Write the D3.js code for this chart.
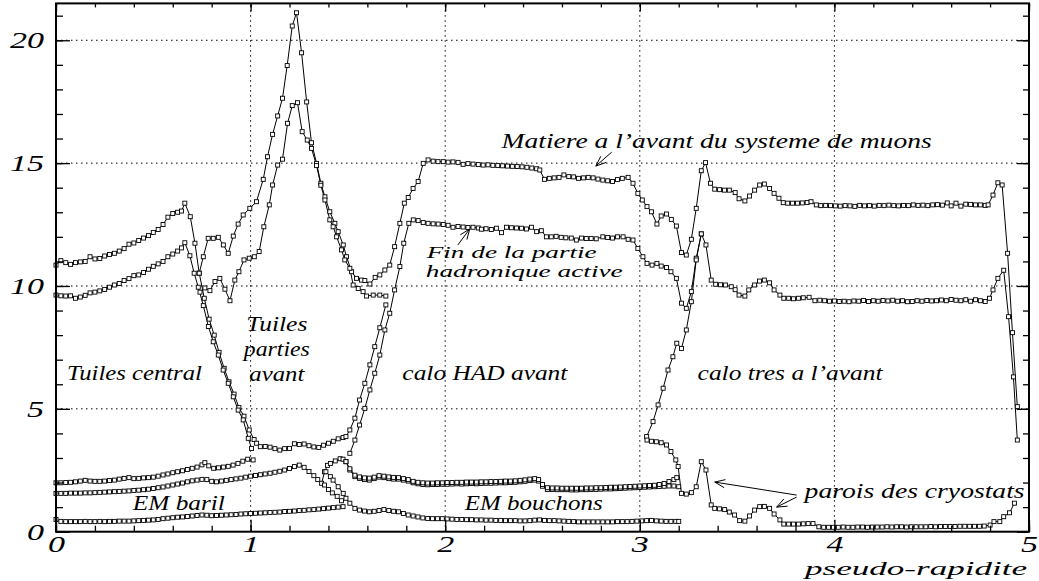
<!DOCTYPE html>
<html><head><meta charset="utf-8">
<script src="https://cdn.jsdelivr.net/npm/d3@7"></script>
<style>
body{margin:0;background:#fff;}
svg{display:block;background:#fff;}
svg text{font-family:"Liberation Serif","Times New Roman",Times,"Nimbus Roman","DejaVu Serif","Noto Serif",serif !important;font-style:italic;fill:#000;}
</style></head><body>
<svg id="chart" width="1039" height="581"></svg>
<script>
// ---------------- data (eta, interaction lengths) ----------------
const xTicks = [0, 1, 2, 3, 4, 5];
const yTicks = [0, 5, 10, 15, 20];
const xTickLabels = ["0", "1", "2", "3", "4", "5"];
const yTickLabels = ["0", "5", "10", "15", "20"];

const emBarrelInner = [[0,0.5],[0.025,0.42],[0.05,0.41],[0.075,0.41],[0.1,0.41],[0.125,0.41],[0.15,0.42],[0.175,0.41],[0.2,0.41],[0.225,0.42],[0.25,0.41],[0.275,0.42],[0.3,0.42],[0.325,0.43],[0.35,0.43],[0.375,0.43],[0.4,0.44],[0.425,0.45],[0.45,0.46],[0.475,0.47],[0.5,0.48],[0.525,0.5],[0.55,0.53],[0.575,0.55],[0.6,0.57],[0.625,0.59],[0.65,0.6],[0.675,0.62],[0.7,0.64],[0.725,0.66],[0.75,0.68],[0.775,0.67],[0.8,0.65],[0.825,0.66],[0.85,0.67],[0.875,0.68],[0.9,0.69],[0.925,0.7],[0.95,0.72],[0.975,0.73],[1.0,0.74],[1.025,0.75],[1.05,0.76],[1.075,0.77],[1.1,0.78],[1.125,0.79],[1.15,0.8],[1.175,0.82],[1.2,0.83],[1.225,0.84],[1.25,0.86],[1.275,0.87],[1.3,0.89],[1.325,0.9],[1.35,0.92],[1.375,0.94],[1.4,0.96],[1.425,0.98],[1.45,1.0],[1.475,1.02]];

const emCumulative = [[0,1.56],[0.025,1.56],[0.05,1.56],[0.075,1.57],[0.1,1.57],[0.125,1.57],[0.15,1.58],[0.175,1.58],[0.2,1.59],[0.225,1.6],[0.25,1.61],[0.275,1.62],[0.3,1.63],[0.325,1.64],[0.35,1.65],[0.375,1.66],[0.4,1.68],[0.425,1.69],[0.45,1.71],[0.475,1.73],[0.5,1.76],[0.525,1.79],[0.55,1.82],[0.575,1.86],[0.6,1.9],[0.625,1.94],[0.65,1.98],[0.675,2.03],[0.7,2.07],[0.725,2.1],[0.75,2.13],[0.775,2.12],[0.8,2.05],[0.825,2.03],[0.85,2.06],[0.875,2.09],[0.9,2.12],[0.925,2.15],[0.95,2.18],[0.975,2.22],[1.0,2.26],[1.025,2.29],[1.05,2.32],[1.075,2.35],[1.1,2.38],[1.125,2.42],[1.15,2.46],[1.175,2.51],[1.2,2.57],[1.225,2.65],[1.25,2.71],[1.275,2.62],[1.3,2.45],[1.325,2.28],[1.345,2.12],[1.365,1.97],[1.38,2.44],[1.395,2.7],[1.41,2.78],[1.435,2.88],[1.46,2.97],[1.475,2.95],[1.49,2.85],[1.51,2.51],[1.536,2.24],[1.56,2.17],[1.585,2.12],[1.61,2.1],[1.635,2.16],[1.66,2.22],[1.685,2.2],[1.71,2.16],[1.735,2.14],[1.76,2.14],[1.785,2.1],[1.81,2.06],[1.835,1.99],[1.86,1.95],[1.885,1.92],[1.91,1.91],[1.935,1.92],[1.96,1.92],[1.985,1.93],[2.01,1.93],[2.035,1.94],[2.06,1.95],[2.085,1.94],[2.11,1.95],[2.135,1.96],[2.16,1.95],[2.185,1.96],[2.21,1.97],[2.235,1.97],[2.26,1.98],[2.285,1.99],[2.31,1.99],[2.335,2.0],[2.36,2.01],[2.385,2.03],[2.41,2.05],[2.435,2.08],[2.46,2.1],[2.48,2.06],[2.5,1.85],[2.525,1.72],[2.55,1.72],[2.575,1.71],[2.6,1.71],[2.625,1.71],[2.65,1.7],[2.675,1.7],[2.7,1.71],[2.725,1.71],[2.75,1.72],[2.775,1.72],[2.8,1.73],[2.825,1.74],[2.85,1.74],[2.875,1.75],[2.9,1.76],[2.925,1.77],[2.95,1.78],[2.975,1.79],[3.0,1.8],[3.025,1.81],[3.05,1.82],[3.075,1.83],[3.1,1.84],[3.125,1.85],[3.15,1.86],[3.175,1.86],[3.2,1.83]];

const emEndcapOuter = [[1.49,2.85],[1.51,2.56],[1.536,2.3],[1.56,2.23],[1.585,2.19],[1.61,2.18],[1.635,2.22],[1.66,2.28],[1.685,2.26],[1.71,2.23],[1.735,2.21],[1.76,2.2],[1.785,2.16],[1.81,2.12],[1.835,2.05],[1.86,2.01],[1.885,1.99],[1.91,1.98],[1.935,1.98],[1.96,1.99],[1.985,1.99],[2.01,2.0],[2.035,2.0],[2.06,2.01],[2.085,2.01],[2.11,2.02],[2.135,2.02],[2.16,2.02],[2.185,2.03],[2.21,2.03],[2.235,2.04],[2.26,2.04],[2.285,2.05],[2.31,2.06],[2.335,2.06],[2.36,2.07],[2.385,2.09],[2.41,2.11],[2.435,2.14],[2.46,2.16],[2.48,2.12],[2.5,1.92],[2.525,1.79],[2.55,1.78],[2.575,1.78],[2.6,1.77],[2.625,1.77],[2.65,1.77],[2.675,1.77],[2.7,1.77],[2.725,1.78],[2.75,1.78],[2.775,1.79],[2.8,1.79],[2.825,1.8],[2.85,1.81],[2.875,1.81],[2.9,1.82],[2.925,1.83],[2.95,1.84],[2.975,1.85],[3.0,1.86],[3.025,1.87],[3.05,1.88],[3.075,1.89],[3.1,1.92],[3.125,1.96],[3.15,2.04],[3.175,2.12],[3.19,2.2]];

const emCrackShort = [[1.38,1.9],[1.4,1.72],[1.42,1.58],[1.445,1.44],[1.467,1.26]];

const emEndcapInner = [[1.387,2.44],[1.41,2.24],[1.424,2.1],[1.45,1.83],[1.476,1.56],[1.49,1.36],[1.51,1.16],[1.536,0.95],[1.56,0.88],[1.585,0.84],[1.61,0.81],[1.635,0.83],[1.66,0.86],[1.685,0.9],[1.71,0.86],[1.735,0.83],[1.76,0.81],[1.785,0.74],[1.81,0.68],[1.835,0.64],[1.86,0.6],[1.885,0.56],[1.91,0.54],[1.935,0.53],[1.96,0.53],[1.985,0.53],[2.01,0.52],[2.035,0.51],[2.06,0.5],[2.085,0.5],[2.11,0.49],[2.135,0.49],[2.16,0.48],[2.185,0.48],[2.21,0.47],[2.235,0.47],[2.26,0.46],[2.285,0.46],[2.31,0.45],[2.335,0.45],[2.36,0.45],[2.385,0.44],[2.41,0.44],[2.435,0.45],[2.46,0.47],[2.485,0.48],[2.51,0.46],[2.535,0.45],[2.56,0.45],[2.585,0.44],[2.61,0.43],[2.635,0.42],[2.66,0.41],[2.685,0.4],[2.71,0.4],[2.735,0.4],[2.76,0.4],[2.785,0.4],[2.81,0.4],[2.835,0.4],[2.86,0.4],[2.885,0.41],[2.91,0.41],[2.935,0.41],[2.96,0.42],[2.985,0.43],[3.01,0.44],[3.035,0.45],[3.06,0.46],[3.085,0.44],[3.11,0.43],[3.135,0.42],[3.16,0.42],[3.185,0.42],[3.2,0.42]];

const tileBarrelFront = [[0,1.99],[0.025,1.99],[0.05,2.0],[0.075,2.01],[0.1,2.03],[0.125,2.06],[0.15,2.09],[0.175,2.06],[0.2,2.05],[0.225,2.05],[0.25,2.06],[0.275,2.08],[0.3,2.1],[0.325,2.14],[0.35,2.17],[0.375,2.2],[0.4,2.16],[0.425,2.17],[0.45,2.19],[0.475,2.2],[0.5,2.22],[0.525,2.26],[0.55,2.31],[0.575,2.35],[0.6,2.4],[0.625,2.44],[0.65,2.48],[0.675,2.53],[0.7,2.58],[0.725,2.63],[0.75,2.72],[0.765,2.81],[0.785,2.68],[0.81,2.58],[0.835,2.6],[0.86,2.63],[0.885,2.66],[0.91,2.71],[0.935,2.78],[0.96,2.87],[0.985,2.95],[1.013,2.92]];

const barrelTotal = [[0,10.85],[0.025,11.03],[0.05,10.95],[0.075,10.88],[0.1,10.95],[0.125,10.98],[0.15,11.0],[0.175,11.19],[0.2,11.1],[0.225,11.12],[0.25,11.22],[0.275,11.28],[0.3,11.33],[0.325,11.42],[0.35,11.52],[0.375,11.7],[0.4,11.75],[0.425,11.85],[0.45,11.95],[0.475,12.05],[0.5,12.18],[0.525,12.3],[0.55,12.5],[0.575,12.8],[0.6,12.95],[0.625,13.0],[0.645,13.05],[0.662,13.37],[0.69,12.82],[0.714,11.74],[0.736,10.52],[0.762,9.5],[0.787,8.65],[0.813,8.0],[0.838,7.3],[0.864,6.65],[0.889,6.1],[0.915,5.6],[0.94,5.05],[0.966,4.7],[0.993,4.14],[1.018,3.75],[1.031,3.6],[1.05,3.46],[1.075,3.47],[1.1,3.44],[1.125,3.38],[1.15,3.32],[1.175,3.38],[1.2,3.39],[1.225,3.58],[1.25,3.55],[1.275,3.57],[1.3,3.5],[1.325,3.45],[1.35,3.43],[1.375,3.52],[1.4,3.6],[1.425,3.68],[1.45,3.78],[1.475,3.83],[1.49,3.87],[1.51,4.14],[1.536,4.62],[1.56,5.36],[1.587,6.04],[1.613,6.79],[1.638,7.53],[1.664,8.3],[1.695,9.23]];

const barrelActive = [[0,9.63],[0.025,9.6],[0.05,9.59],[0.075,9.6],[0.1,9.5],[0.125,9.55],[0.15,9.62],[0.175,9.72],[0.2,9.75],[0.225,9.8],[0.25,9.86],[0.275,9.95],[0.3,10.04],[0.325,10.1],[0.35,10.22],[0.375,10.3],[0.4,10.42],[0.425,10.45],[0.45,10.55],[0.475,10.68],[0.5,10.8],[0.525,10.9],[0.55,11.0],[0.575,11.19],[0.6,11.3],[0.625,11.42],[0.645,11.55],[0.662,11.76],[0.688,11.23],[0.71,10.52],[0.731,9.95],[0.757,9.2],[0.783,8.35],[0.808,7.73],[0.834,7.19],[0.859,6.58],[0.885,6.04],[0.911,5.49],[0.936,4.95],[0.962,4.55],[0.988,3.8],[1.005,3.39]];

const totalBeforeMuons = [[0.736,10.52],[0.757,11.19],[0.782,11.94],[0.808,11.94],[0.834,11.98],[0.86,11.67],[0.885,11.33],[0.911,12.03],[0.936,12.52],[0.962,12.89],[0.996,13.16],[1.03,13.43],[1.065,14.34],[1.087,15.26],[1.113,16.17],[1.139,16.92],[1.164,17.64],[1.188,18.97],[1.214,20.58],[1.236,21.12],[1.262,19.49],[1.288,17.49],[1.313,15.83],[1.339,14.99],[1.361,14.18],[1.382,13.63],[1.407,13.02],[1.433,12.55],[1.45,12.21],[1.476,11.67],[1.493,11.19],[1.519,10.58],[1.544,10.31],[1.57,10.24],[1.587,10.22],[1.613,10.08],[1.64,10.35],[1.664,10.45],[1.69,10.65],[1.715,10.85],[1.74,11.6],[1.767,12.55],[1.79,13.37],[1.81,13.6],[1.835,13.97],[1.861,14.25],[1.887,14.99],[1.912,15.13],[1.938,15.08],[1.963,15.06],[1.99,15.06],[2.015,15.04],[2.04,15.05],[2.066,15.03],[2.092,14.95],[2.117,14.98],[2.143,14.96],[2.17,14.94],[2.195,14.92],[2.22,14.93],[2.245,14.91],[2.27,14.9],[2.295,14.89],[2.32,14.88],[2.345,14.87],[2.37,14.86],[2.395,14.85],[2.42,14.83],[2.445,14.8],[2.47,14.77],[2.486,14.72],[2.51,14.34],[2.535,14.38],[2.56,14.4],[2.585,14.42],[2.61,14.52],[2.635,14.45],[2.66,14.44],[2.685,14.38],[2.71,14.4],[2.735,14.42],[2.76,14.4],[2.785,14.35],[2.81,14.31],[2.835,14.28],[2.86,14.25],[2.885,14.33],[2.91,14.38],[2.94,14.42],[2.965,14.18],[2.99,13.77],[3.013,13.5],[3.037,13.23],[3.06,13.02],[3.088,12.52],[3.11,12.85],[3.137,12.93],[3.162,12.71],[3.188,12.44],[3.214,11.36],[3.239,11.26],[3.265,11.9],[3.29,13.16],[3.316,14.69],[3.338,15.02],[3.363,14.18],[3.385,13.94],[3.41,13.92],[3.435,13.9],[3.46,13.9],[3.49,13.8],[3.51,13.55],[3.54,13.46],[3.564,13.66],[3.59,13.9],[3.616,14.11],[3.64,14.15],[3.667,13.97],[3.69,13.77],[3.715,13.57],[3.737,13.39],[3.76,13.37],[3.785,13.37],[3.81,13.37],[3.835,13.38],[3.86,13.4],[3.88,13.43],[3.907,13.3],[3.93,13.27],[3.955,13.28],[3.98,13.27],[4.005,13.26],[4.03,13.25],[4.055,13.27],[4.08,13.26],[4.105,13.24],[4.13,13.28],[4.155,13.26],[4.18,13.27],[4.205,13.25],[4.23,13.28],[4.255,13.27],[4.28,13.29],[4.305,13.27],[4.33,13.26],[4.355,13.28],[4.38,13.27],[4.405,13.3],[4.43,13.28],[4.455,13.29],[4.48,13.27],[4.505,13.3],[4.53,13.31],[4.555,13.29],[4.58,13.38],[4.6,13.26],[4.625,13.37],[4.65,13.25],[4.675,13.33],[4.7,13.32],[4.725,13.3],[4.75,13.3],[4.775,13.28],[4.79,13.3],[4.815,13.7],[4.84,14.2],[4.862,14.11],[4.89,11.33],[4.915,8.1],[4.94,5.09]];

const extBarrelActive = [[0.74,9.75],[0.765,9.92],[0.791,9.81],[0.817,10.18],[0.842,10.31],[0.868,9.87],[0.894,9.4],[0.919,10.24],[0.94,10.58],[0.966,11.06],[0.993,11.13],[1.019,11.19],[1.044,11.4],[1.068,12.41],[1.096,13.3],[1.113,14.11],[1.139,14.92],[1.164,15.16],[1.19,16.62],[1.214,17.34],[1.241,17.46],[1.265,16.28],[1.291,15.94],[1.313,15.6],[1.339,14.9],[1.361,14.1],[1.382,13.5],[1.407,12.69],[1.424,12.41],[1.442,12.0],[1.467,11.47],[1.484,11.06],[1.51,10.72],[1.527,10.04],[1.553,9.9],[1.578,9.77],[1.596,9.59],[1.63,9.63],[1.664,9.63],[1.695,9.59]];

const hecActive = [[1.51,3.19],[1.536,3.73],[1.56,4.34],[1.587,5.02],[1.613,5.77],[1.638,6.45],[1.664,7.19],[1.69,8.21],[1.715,8.89],[1.74,9.84],[1.767,10.79],[1.787,11.74],[1.813,12.55],[1.836,12.69],[1.861,12.66],[1.887,12.58],[1.912,12.55],[1.938,12.53],[1.964,12.52],[1.99,12.5],[2.015,12.47],[2.04,12.39],[2.066,12.42],[2.092,12.4],[2.117,12.38],[2.143,12.39],[2.17,12.36],[2.186,12.31],[2.21,12.33],[2.237,12.3],[2.263,12.35],[2.289,12.17],[2.315,12.39],[2.34,12.37],[2.366,12.36],[2.392,12.35],[2.418,12.32],[2.443,12.39],[2.47,12.21],[2.494,12.25],[2.52,12.0],[2.545,12.0],[2.57,12.02],[2.596,11.98],[2.62,11.96],[2.648,11.95],[2.674,11.87],[2.7,11.95],[2.725,11.93],[2.75,11.93],[2.776,11.92],[2.81,12.0],[2.835,11.97],[2.86,11.95],[2.885,12.0],[2.914,12.0],[2.94,11.9],[2.965,11.87],[2.99,11.53],[3.016,11.19],[3.037,10.92],[3.063,10.85],[3.088,10.92],[3.11,10.81],[3.137,10.75],[3.16,10.58],[3.188,10.31],[3.214,9.3],[3.239,9.09],[3.265,9.77],[3.29,11.13],[3.316,12.12]];

const fcalActive = [[3.035,3.87],[3.068,4.48],[3.094,5.16],[3.12,5.84],[3.145,6.58],[3.17,7.12],[3.19,7.67],[3.214,7.46],[3.239,8.21],[3.265,9.36],[3.29,11.06],[3.316,12.12],[3.34,11.67],[3.367,10.24],[3.39,10.07],[3.415,10.05],[3.44,10.04],[3.47,9.97],[3.49,9.85],[3.51,9.63],[3.54,9.59],[3.56,9.84],[3.59,10.04],[3.615,10.2],[3.64,10.24],[3.667,10.13],[3.69,9.84],[3.72,9.63],[3.74,9.5],[3.765,9.5],[3.79,9.48],[3.815,9.5],[3.84,9.52],[3.87,9.54],[3.9,9.4],[3.925,9.42],[3.95,9.4],[3.975,9.38],[4.0,9.39],[4.025,9.37],[4.05,9.38],[4.075,9.36],[4.1,9.39],[4.125,9.38],[4.15,9.41],[4.175,9.37],[4.2,9.4],[4.225,9.38],[4.25,9.41],[4.275,9.39],[4.3,9.42],[4.325,9.38],[4.35,9.4],[4.375,9.36],[4.4,9.37],[4.425,9.4],[4.45,9.38],[4.475,9.41],[4.5,9.39],[4.525,9.4],[4.55,9.43],[4.575,9.4],[4.6,9.45],[4.625,9.42],[4.65,9.4],[4.675,9.44],[4.7,9.38],[4.725,9.44],[4.75,9.4],[4.775,9.37],[4.797,9.5],[4.815,9.84],[4.84,10.31],[4.87,10.64],[4.895,8.75],[4.92,6.3],[4.94,3.73]];

const cryostatWalls = [[3.037,3.73],[3.06,3.68],[3.085,3.66],[3.11,3.62],[3.137,3.53],[3.16,3.26],[3.185,2.92],[3.197,2.65],[3.214,1.56],[3.239,1.53],[3.265,1.59],[3.29,1.83],[3.316,2.85],[3.34,2.51],[3.367,1.09],[3.385,0.95],[3.41,0.93],[3.436,0.9],[3.46,0.8],[3.487,0.68],[3.513,0.45],[3.54,0.43],[3.564,0.64],[3.59,0.88],[3.616,1.02],[3.64,1.03],[3.667,0.95],[3.69,0.72],[3.72,0.48],[3.74,0.31],[3.765,0.31],[3.79,0.31],[3.815,0.31],[3.84,0.32],[3.865,0.33],[3.89,0.33],[3.92,0.2],[3.945,0.18],[3.97,0.18],[3.995,0.18],[4.02,0.18],[4.045,0.19],[4.07,0.18],[4.095,0.18],[4.12,0.19],[4.145,0.19],[4.17,0.18],[4.195,0.19],[4.22,0.19],[4.245,0.19],[4.27,0.2],[4.295,0.19],[4.32,0.2],[4.345,0.2],[4.37,0.19],[4.395,0.2],[4.42,0.2],[4.445,0.2],[4.47,0.2],[4.495,0.21],[4.52,0.2],[4.545,0.21],[4.57,0.21],[4.595,0.21],[4.62,0.21],[4.645,0.22],[4.67,0.22],[4.695,0.22],[4.72,0.22],[4.745,0.22],[4.77,0.23],[4.8,0.27],[4.82,0.41],[4.85,0.41],[4.87,0.61],[4.9,0.77],[4.925,1.16]];

const seriesList = [emBarrelInner, emCumulative, emEndcapOuter, emCrackShort, emEndcapInner, tileBarrelFront,
  barrelTotal, barrelActive, totalBeforeMuons, extBarrelActive, hecActive, fcalActive, cryostatWalls];

// ---------------- drawing ----------------
const FONT = '"Liberation Serif","Times New Roman",Times,"Nimbus Roman","DejaVu Serif","Noto Serif",serif';
const svg = d3.select("#chart");
const x = d3.scaleLinear().domain([0, 5]).range([56, 1029]);
const y = d3.scaleLinear().domain([0, 21.5]).range([531.7, 3.4]);
const X0 = x(0), X1 = x(5), Y0 = y(0), Y1 = y(21.5);

svg.append("rect").attr("width", 1039).attr("height", 581).attr("fill", "#fff");

// grid (dotted) at major ticks
const grid = svg.append("g").attr("stroke", "#000").attr("stroke-width", 1).attr("stroke-dasharray", "1.5,3.5");
grid.selectAll("line.gx").data(xTicks.filter(d => d > 0 && d < 5)).join("line")
  .attr("x1", d => x(d)).attr("x2", d => x(d)).attr("y1", Y0).attr("y2", Y1);
grid.selectAll("line.gy").data(yTicks.filter(d => d > 0)).join("line")
  .attr("x1", X0).attr("x2", X1).attr("y1", d => y(d)).attr("y2", d => y(d));

// series
const line = d3.line().x(d => x(d[0])).y(d => y(d[1]));
const gS = svg.append("g");
seriesList.forEach(s => {
  gS.append("path").attr("d", line(s)).attr("fill", "none").attr("stroke", "#000").attr("stroke-width", 1);
});
seriesList.forEach(s => {
  gS.append("g").selectAll("rect").data(s).join("rect")
    .attr("x", d => x(d[0]) - 2).attr("y", d => y(d[1]) - 2)
    .attr("width", 4).attr("height", 4)
    .attr("fill", "#fff").attr("stroke", "#000").attr("stroke-width", 0.9);
});

// axes
const minorX = d3.range(0, 5.0001, 0.2).map(v => +v.toFixed(2));
const minorY = d3.range(0, 21.5, 1);
function styleAxis(g) {
  g.attr("font-family", FONT);
  g.select(".domain").remove();
  g.selectAll("line").attr("stroke", "#000").attr("stroke-width", 1.3);
}

const axB = svg.append("g").attr("transform", `translate(0,${Y0})`)
  .call(d3.axisBottom(x).tickValues(minorX).tickSize(-6).tickFormat(""));
styleAxis(axB);
const axBM = svg.append("g").attr("transform", `translate(0,${Y0})`)
  .call(d3.axisBottom(x).tickValues(xTicks).tickSizeInner(-12).tickSizeOuter(0).tickPadding(4)
    .tickFormat((d, i) => xTickLabels[i]));
styleAxis(axBM);
axBM.selectAll("text").attr("font-size", 23).attr("font-style", "italic")
  .attr("textLength", 17).attr("lengthAdjust", "spacingAndGlyphs");

const axT = svg.append("g").attr("transform", `translate(0,${Y1})`)
  .call(d3.axisTop(x).tickValues(minorX).tickSize(-4).tickFormat(""));
styleAxis(axT);
const axTM = svg.append("g").attr("transform", `translate(0,${Y1})`)
  .call(d3.axisTop(x).tickValues(xTicks).tickSize(-8).tickFormat(""));
styleAxis(axTM);

const axL = svg.append("g").attr("transform", `translate(${X0},0)`)
  .call(d3.axisLeft(y).tickValues(minorY).tickSize(-7).tickFormat(""));
styleAxis(axL);
const axLM = svg.append("g").attr("transform", `translate(${X0},0)`)
  .call(d3.axisLeft(y).tickValues(yTicks).tickSizeInner(-14).tickSizeOuter(0).tickPadding(12)
    .tickFormat((d, i) => yTickLabels[i]));
styleAxis(axLM);
axLM.selectAll("text").attr("font-size", 24).attr("font-style", "italic")
  .attr("textLength", d => d >= 10 ? 34 : 17).attr("lengthAdjust", "spacingAndGlyphs");

const axR = svg.append("g").attr("transform", `translate(${X1},0)`)
  .call(d3.axisRight(y).tickValues(minorY).tickSize(-6).tickFormat(""));
styleAxis(axR);
const axRM = svg.append("g").attr("transform", `translate(${X1},0)`)
  .call(d3.axisRight(y).tickValues(yTicks).tickSize(-12).tickFormat(""));
styleAxis(axRM);

// frame
svg.append("rect").attr("x", X0).attr("y", Y1).attr("width", X1 - X0).attr("height", Y0 - Y1)
  .attr("fill", "none").attr("stroke", "#000").attr("stroke-width", 2);

// axis title
svg.append("text").attr("x", 1027).attr("y", 575).attr("text-anchor", "end").attr("font-family", FONT)
  .attr("font-size", 19.5).attr("textLength", 222).attr("lengthAdjust", "spacingAndGlyphs").text("pseudo-rapidite");

// annotations [text, eta, value, width, size, anchor]
const labels = [
  ["Tuiles central", 0.056, 6.17, 135, 21, "start"],
  ["Tuiles", 1.135, 8.17, 61, 21, "middle"],
  ["parties", 1.135, 7.15, 66, 21, "middle"],
  ["avant", 1.135, 6.13, 55, 21, "middle"],
  ["calo HAD avant", 1.78, 6.17, 165, 21, "start"],
  ["calo tres a l\u2019avant", 3.297, 6.17, 185, 21, "start"],
  ["Fin de la partie", 1.905, 11.13, 170, 17, "start"],
  ["hadronique active", 1.9, 10.37, 197, 17, "start"],
  ["Matiere a l\u2019avant du systeme de muons", 2.29, 15.62, 430, 21, "start"],
  ["EM baril", 0.395, 0.88, 92, 21, "start"],
  ["EM bouchons", 2.1, 0.88, 138, 21, "start"],
  ["parois des cryostats", 3.847, 1.37, 220, 21, "start"]
];
svg.append("g").attr("font-family", FONT).selectAll("text").data(labels).join("text")
  .attr("x", d => x(d[1])).attr("y", d => y(d[2]))
  .attr("text-anchor", d => d[5]).attr("font-size", d => d[4])
  .attr("textLength", d => d[3]).attr("lengthAdjust", "spacingAndGlyphs")
  .text(d => d[0]);

// arrows [tailEta, tailVal, headEta, headVal]
const arrows = [
  [2.065, 11.67, 2.126, 12.32],
  [2.856, 15.45, 2.774, 14.88],
  [3.806, 1.49, 3.385, 2.02],
  [3.806, 1.41, 3.703, 1.0]
];
const gA = svg.append("g").attr("stroke", "#000").attr("stroke-width", 1).attr("fill", "none");
arrows.forEach(a => {
  const x1 = x(a[0]), y1 = y(a[1]), x2 = x(a[2]), y2 = y(a[3]);
  const ang = Math.atan2(y2 - y1, x2 - x1), L = 11, sp = 0.38;
  const p1 = [x2 - L * Math.cos(ang - sp), y2 - L * Math.sin(ang - sp)];
  const p2 = [x2 - L * Math.cos(ang + sp), y2 - L * Math.sin(ang + sp)];
  gA.append("path").attr("d", `M${x1},${y1}L${x2},${y2}M${p1[0]},${p1[1]}L${x2},${y2}L${p2[0]},${p2[1]}`);
});
</script>
</body></html>
